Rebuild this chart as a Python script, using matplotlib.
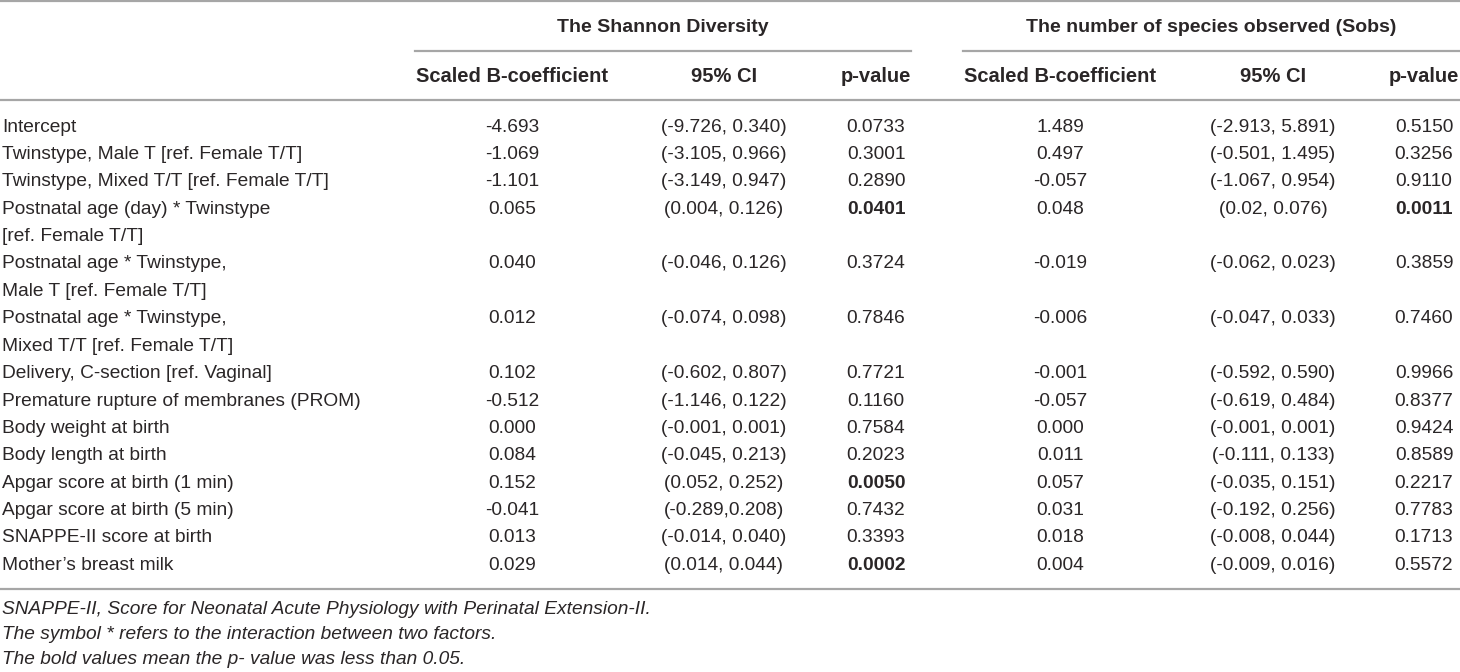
import matplotlib as mpl
mpl.use('Agg')
import matplotlib.pyplot as plt

plt.rcParams['font.family'] = ['Liberation Sans', 'DejaVu Sans']

#row labels, a newline means the label wraps to a second line
aLabel = ['Intercept',
          'Twinstype, Male T [ref. Female T/T]',
          'Twinstype, Mixed T/T [ref. Female T/T]',
          'Postnatal age (day) * Twinstype\n[ref. Female T/T]',
          'Postnatal age * Twinstype,\nMale T [ref. Female T/T]',
          'Postnatal age * Twinstype,\nMixed T/T [ref. Female T/T]',
          'Delivery, C-section [ref. Vaginal]',
          'Premature rupture of membranes (PROM)',
          'Body weight at birth',
          'Body length at birth',
          'Apgar score at birth (1 min)',
          'Apgar score at birth (5 min)',
          'SNAPPE-II score at birth',
          'Mother\u2019s breast milk']

#shannon diversity
aShannon_b = [-4.693, -1.069, -1.101, 0.065, 0.040, 0.012, 0.102, -0.512,
              0.000, 0.084, 0.152, -0.041, 0.013, 0.029]
aShannon_ci = ['(-9.726, 0.340)', '(-3.105, 0.966)', '(-3.149, 0.947)', '(0.004, 0.126)',
               '(-0.046, 0.126)', '(-0.074, 0.098)', '(-0.602, 0.807)', '(-1.146, 0.122)',
               '(-0.001, 0.001)', '(-0.045, 0.213)', '(0.052, 0.252)', '(-0.289,0.208)',
               '(-0.014, 0.040)', '(0.014, 0.044)']
aShannon_p = [0.0733, 0.3001, 0.2890, 0.0401, 0.3724, 0.7846, 0.7721, 0.1160,
              0.7584, 0.2023, 0.0050, 0.7432, 0.3393, 0.0002]

#number of species observed
aSobs_b = [1.489, 0.497, -0.057, 0.048, -0.019, -0.006, -0.001, -0.057,
           0.000, 0.011, 0.057, 0.031, 0.018, 0.004]
aSobs_ci = ['(-2.913, 5.891)', '(-0.501, 1.495)', '(-1.067, 0.954)', '(0.02, 0.076)',
            '(-0.062, 0.023)', '(-0.047, 0.033)', '(-0.592, 0.590)', '(-0.619, 0.484)',
            '(-0.001, 0.001)', '(-0.111, 0.133)', '(-0.035, 0.151)', '(-0.192, 0.256)',
            '(-0.008, 0.044)', '(-0.009, 0.016)']
aSobs_p = [0.5150, 0.3256, 0.9110, 0.0011, 0.3859, 0.7460, 0.9966, 0.8377,
           0.9424, 0.8589, 0.2217, 0.7783, 0.1713, 0.5572]

aGroup = ['The Shannon Diversity', 'The number of species observed (Sobs)']
aColumn = ['Scaled B-coefficient', '95% CI', 'p-value']
aFootnote = ['SNAPPE-II, Score for Neonatal Acute Physiology with Perinatal Extension-II.',
             'The symbol * refers to the interaction between two factors.',
             'The bold values mean the p- value was less than 0.05.']

sColor_text = '#2a2627'
sColor_line = '#a6a6a6'
dFont = 13.8
dFont_head = 14.5
dLine_step = 27.4

fig = plt.figure(figsize=(14.6, 6.72), dpi=100)
ax = fig.add_axes([0, 0, 1, 1])
ax.set_xlim(0, 1460)
ax.set_ylim(672, 0)
ax.axis('off')

#column centres for both groups
aX_group = [[512, 724, 876], [1060, 1273, 1424]]
aSpan = [(415, 911), (963, 1460)]

#rules
ax.plot([0, 1460], [1, 1], color=sColor_line, lw=1.6)
for (x0, x1) in aSpan:
    ax.plot([x0, x1], [51, 51], color=sColor_line, lw=1.6)
ax.plot([0, 1460], [100, 100], color=sColor_line, lw=1.6)
ax.plot([0, 1460], [589, 589], color=sColor_line, lw=1.6)

#headers
for i, sGroup in enumerate(aGroup):
    ax.text(0.5 * (aSpan[i][0] + aSpan[i][1]), 27, sGroup, ha='center', va='center',
            fontsize=14.0, fontweight='bold', color=sColor_text)
    for j, sCol in enumerate(aColumn):
        ax.text(aX_group[i][j], 77, sCol, ha='center', va='center',
                fontsize=dFont_head, fontweight='bold', color=sColor_text)

#body
y = 127
for i in range(len(aLabel)):
    aLines = aLabel[i].split('\n')
    for k, sLine in enumerate(aLines):
        ax.text(2, y + k * dLine_step, sLine, ha='left', va='center',
                fontsize=dFont, color=sColor_text)
    aValues = [(aShannon_b[i], aShannon_ci[i], aShannon_p[i]),
               (aSobs_b[i], aSobs_ci[i], aSobs_p[i])]
    for g, (dB, sCI, dP) in enumerate(aValues):
        ax.text(aX_group[g][0], y, '{:.3f}'.format(dB), ha='center', va='center',
                fontsize=dFont, color=sColor_text)
        ax.text(aX_group[g][1], y, sCI, ha='center', va='center',
                fontsize=dFont, color=sColor_text)
        ax.text(aX_group[g][2], y, '{:.4f}'.format(dP), ha='center', va='center',
                fontsize=dFont, color=sColor_text,
                fontweight='bold' if dP < 0.05 else 'normal')
    y = y + len(aLines) * dLine_step

#footnotes
for k, sNote in enumerate(aFootnote):
    ax.text(2, 609 + k * 25.5, sNote, ha='left', va='center', fontsize=dFont,
            style='italic', color=sColor_text)

plt.savefig('out.png', dpi=100)
plt.close('all')
